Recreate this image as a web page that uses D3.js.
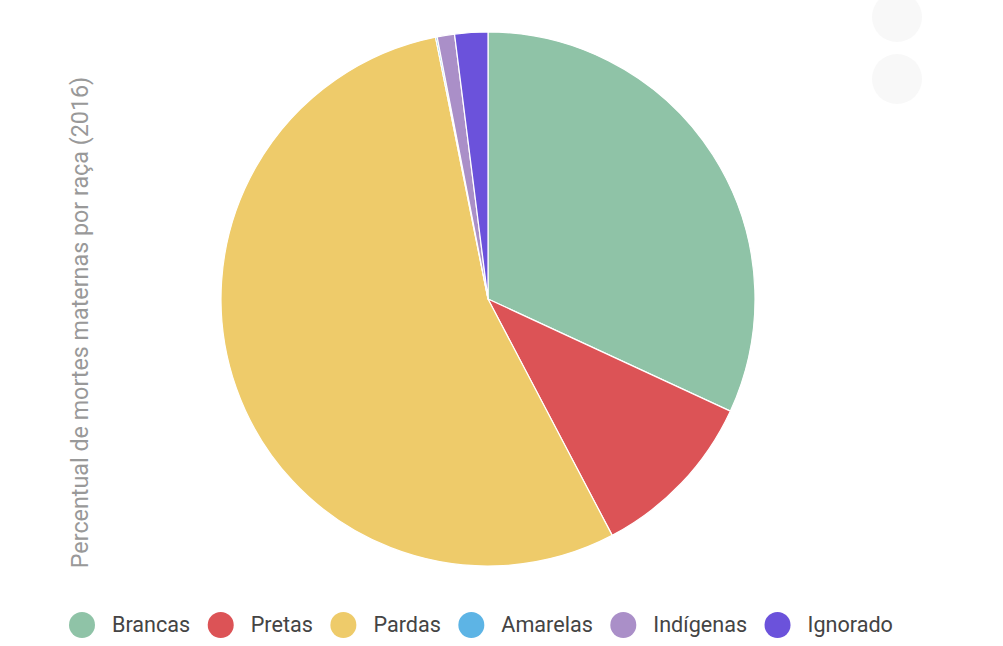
<!DOCTYPE html>
<html><head><meta charset="utf-8">
<script src="https://cdn.jsdelivr.net/npm/d3@7"></script>
<style>body{margin:0;background:#fff;}svg{display:block;font-family:Roboto,"Noto Sans",sans-serif;}</style>
</head><body>
<svg id="c" width="1003" height="646"></svg>
<script>
const categories = ["Brancas","Pretas","Pardas","Amarelas","Indígenas","Ignorado"];
const values = [31.9, 10.4, 54.55, 0.1, 1.05, 2.0];
const colors = ["#8fc3a7","#dc5356","#eecb6a","#5db4e5","#aa8fc8","#6b52db"];
const yTitle = "Percentual de mortes maternas por raça (2016)";

const svg = d3.select("#c");
const cx = 488, cy = 299, r = 267;
const data = categories.map((c,i)=>({c, v:values[i], col:colors[i]}));
const pie = d3.pie().sort(null).value(d=>d.v);
const arc = d3.arc().innerRadius(0).outerRadius(r);
svg.append("g").attr("transform",`translate(${cx},${cy})`)
  .selectAll("path").data(pie(data)).join("path")
  .attr("d",arc).attr("fill",d=>d.data.col)
  .attr("stroke","#fff").attr("stroke-width",1.2).attr("stroke-linejoin","round");

svg.append("text").attr("transform","translate(87.5,322.5) rotate(-90)")
  .attr("text-anchor","middle").attr("fill","#999").attr("font-size",23.3).text(yTitle);

// faint toolbar buttons
[17,79].forEach(y=>svg.append("circle").attr("cx",897).attr("cy",y).attr("r",25).attr("fill","#f8f8f8"));

// legend
const lg = svg.append("g");
let x = 82;
data.forEach((d,i)=>{
  lg.append("circle").attr("cx",x).attr("cy",625).attr("r",13).attr("fill",d.col);
  const t = lg.append("text").attr("x",x+30).attr("y",632).attr("fill","#444").attr("font-size",21.6).text(d.c);
  const w = t.node().getComputedTextLength();
  x = x + 30 + w + 30.5;
});
</script>
</body></html>
